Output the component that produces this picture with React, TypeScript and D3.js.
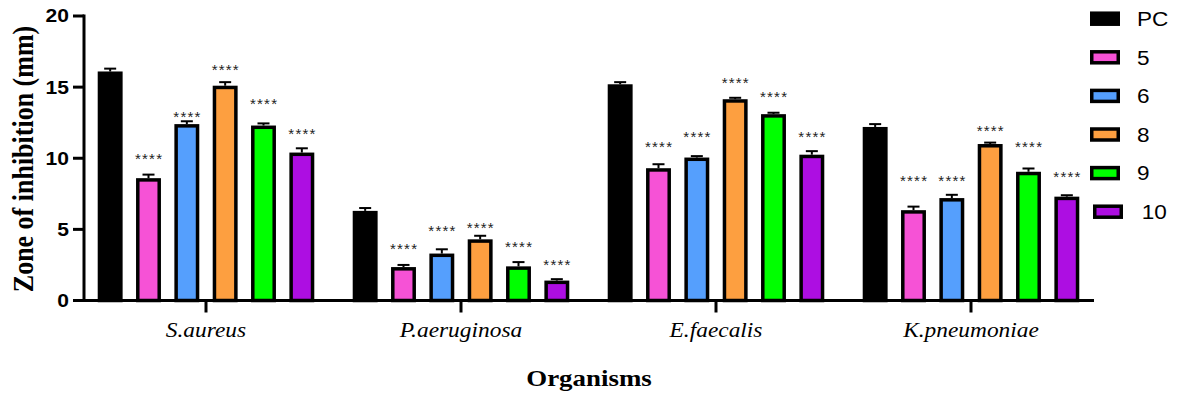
import React from 'react';
import * as d3 from 'd3';

// organisms on the x axis, compounds as the grouped bars
const organisms = ['S.aureus', 'P.aeruginosa', 'E.faecalis', 'K.pneumoniae'];
const compounds = ['PC', '5', '6', '8', '9', '10'];
const compoundColors = ['#000000', '#f652d6', '#559ffd', '#fd9f40', '#00ff00', '#ad0ee2'];

// mean zone of inhibition (mm), one array per compound, order = organisms
const meanPC = [16.1, 6.3, 15.2, 12.2];
const mean5 = [8.6, 2.35, 9.3, 6.35];
const mean6 = [12.4, 3.3, 10.05, 7.2];
const mean8 = [15.1, 4.3, 14.15, 11.0];
const mean9 = [12.3, 2.4, 13.1, 9.05];
const mean10 = [10.4, 1.4, 10.25, 7.3];

// error (SD), upper whisker only
const errPC = [0.2, 0.2, 0.15, 0.2];
const err5 = [0.25, 0.15, 0.28, 0.25];
const err6 = [0.2, 0.3, 0.1, 0.23];
const err8 = [0.25, 0.25, 0.1, 0.1];
const err9 = [0.15, 0.3, 0.1, 0.23];
const err10 = [0.3, 0.1, 0.25, 0.1];

// level (mm) where the "****" significance marks sit; PC has none
const starPC: (number | null)[] = [null, null, null, null];
const star5 = [10.2, 3.9, 11.1, 8.7];
const star6 = [13.2, 5.2, 11.8, 8.7];
const star8 = [16.5, 5.35, 15.55, 12.2];
const star9 = [14.1, 4.05, 14.6, 11.1];
const star10 = [12.0, 2.75, 11.75, 8.95];

const yTicks = [0, 5, 10, 15, 20];

const means = [meanPC, mean5, mean6, mean8, mean9, mean10];
const errs = [errPC, err5, err6, err8, err9, err10];
const stars = [starPC, star5, star6, star8, star9, star10];

const SANS = "Arial, 'Liberation Sans', sans-serif";
const SERIF = "'Times New Roman', 'Liberation Serif', serif";
// the original figure is a little stretched sideways, so text is too
const STRETCH = 1.17;

export default function App() {
  const width = 1177;
  const height = 396;
  const axisX = 84;
  const axisEnd = 1094;
  const barStroke = 3.5;

  const y = d3.scaleLinear().domain([0, 20]).range([300.5, 16]);
  const x0 = d3.scaleBand<string>().domain(organisms).range([78.5, 1098.5]);
  const x1 = d3
    .scaleBand<string>()
    .domain(compounds)
    .range([-115, 115])
    .paddingInner(0.35)
    .paddingOuter(0.175);
  const bw = x1.bandwidth();
  const starSize = 15;

  const bars: any[] = [];
  organisms.forEach((org, gi) => {
    const cx = x0(org)! + x0.bandwidth() / 2;
    compounds.forEach((c, si) => {
      bars.push({
        key: org + c,
        x: cx + x1(c)!,
        v: means[si][gi],
        e: errs[si][gi],
        s: stars[si][gi],
        color: compoundColors[si],
      });
    });
  });

  return (
    <svg
      width={width}
      height={height}
      style={{ position: 'absolute', left: 0, top: 0, background: '#fff' }}
    >
      {/* bars with upper error bars */}
      {bars.map((b) => {
        const top = y(b.v);
        const cx = b.x + bw / 2;
        const eTop = y(b.v + b.e);
        return (
          <g key={b.key}>
            <line x1={cx} x2={cx} y1={top} y2={eTop} stroke="#000" strokeWidth={2} />
            <line x1={cx - 6} x2={cx + 6} y1={eTop} y2={eTop} stroke="#000" strokeWidth={2} />
            <rect
              x={b.x + barStroke / 2}
              y={top + barStroke / 2}
              width={bw - barStroke}
              height={y(0) - top - barStroke / 2}
              fill={b.color}
              stroke="#000"
              strokeWidth={barStroke}
            />
            {b.s != null && (
              <text
                x={cx + 0.6}
                y={y(b.s) + starSize * 0.6}
                textAnchor="middle"
                fontFamily={SANS}
                fontSize={starSize}
                letterSpacing={1.2}
                fill="#222"
              >
                ****
              </text>
            )}
          </g>
        );
      })}

      {/* y axis */}
      <line x1={axisX} x2={axisX} y1={y(20) - 1.5} y2={y(0) + 1.5} stroke="#000" strokeWidth={3} />
      {yTicks.map((t) => (
        <g key={t} transform={`translate(0,${y(t)})`}>
          <line x1={axisX - 11} x2={axisX} stroke="#000" strokeWidth={3} />
          <text
            transform={`translate(${axisX - 15},0) scale(${STRETCH},1)`}
            dy="0.36em"
            textAnchor="end"
            fontFamily={SANS}
            fontWeight="bold"
            fontSize={18}
          >
            {t}
          </text>
        </g>
      ))}
      <text
        transform={`translate(33,159) rotate(-90) scale(1,${STRETCH})`}
        textAnchor="middle"
        fontFamily={SERIF}
        fontWeight="bold"
        fontSize={26}
      >
        Zone of inhibition (mm)
      </text>

      {/* x axis */}
      <line x1={axisX - 1.5} x2={axisEnd} y1={y(0)} y2={y(0)} stroke="#000" strokeWidth={3} />
      {organisms.map((org) => {
        const cx = x0(org)! + x0.bandwidth() / 2;
        return (
          <g key={org} transform={`translate(${cx},0)`}>
            <line y1={y(0)} y2={y(0) + 12} stroke="#000" strokeWidth={3} />
            <text
              transform={`translate(0,337) scale(${STRETCH},1)`}
              textAnchor="middle"
              fontFamily={SERIF}
              fontStyle="italic"
              fontSize={20}
            >
              {org}
            </text>
          </g>
        );
      })}
      <text
        transform={`translate(589,386) scale(${STRETCH},1)`}
        textAnchor="middle"
        fontFamily={SERIF}
        fontWeight="bold"
        fontSize={23}
      >
        Organisms
      </text>

      {/* legend */}
      {compounds.map((c, i) => {
        const ly = 18.7 + i * 38.6;
        const shift = c === '10' ? 3 : 0;
        return (
          <g key={c} transform={`translate(${1090 + shift},${ly})`}>
            <rect
              x={1.75}
              y={-5.5}
              width={26.5}
              height={11}
              fill={compoundColors[i]}
              stroke="#000"
              strokeWidth={3.5}
            />
            <text
              transform={`translate(${47 + shift * 0.6},0) scale(1.1,1)`}
              dy="0.36em"
              fontFamily={SANS}
              fontSize={20.5}
            >
              {c}
            </text>
          </g>
        );
      })}
    </svg>
  );
}
